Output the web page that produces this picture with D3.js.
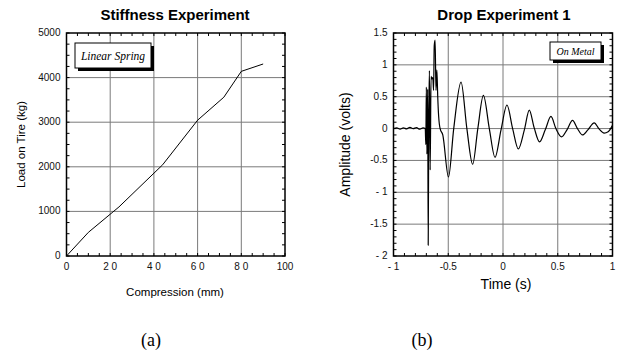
<!DOCTYPE html>
<html>
<head>
<meta charset="utf-8">
<script src="https://cdn.jsdelivr.net/npm/d3@7"></script>
<style>
  body { margin: 0; background: #fff; }
  svg { display: block; }
</style>
</head>
<body>
<div id="chart"></div>
<script>
// Stiffness experiment (a)
const compression = [0, 10, 24, 44, 60, 72, 80, 90];
const load = [0, 530, 1100, 2045, 3045, 3560, 4140, 4305];
const stiffXTicks = [0, 20, 40, 60, 80, 100];
const stiffXLabels = ['0', '2 0', '4 0', '6 0', '8 0', '100'];
const stiffYTicks = [0, 1000, 2000, 3000, 4000, 5000];
const stiffYLabels = ['0', '1000', '2000', '3000', '4000', '5000'];

// Drop experiment 1 (b)
const time = [
  -1, -0.97, -0.94, -0.91, -0.88, -0.85, -0.82, -0.79, -0.76, -0.73, -0.71,
  -0.705, -0.7, -0.695, -0.688, -0.683, -0.678, -0.672, -0.665, -0.657, -0.65, -0.641,
  -0.634, -0.628, -0.62, -0.612, -0.604, -0.596, -0.588, -0.582, -0.574,
  -0.55, -0.498, -0.45, -0.383, -0.33, -0.277, -0.23, -0.179, -0.125, -0.073,
  -0.018, 0.036, 0.088, 0.14, 0.195, 0.24, 0.285, 0.334, 0.386, 0.438, 0.483,
  0.535, 0.584, 0.635, 0.68, 0.726, 0.775, 0.833, 0.875, 0.924, 0.96, 1
];
const amplitude = [
  0.0, 0.01, -0.01, 0.01, -0.005, 0.02, 0.0, 0.015, -0.01, 0.01, 0.0,
  -0.25, 0.65, -0.4, 0.62, -1.83, 0.1, 0.91, -0.65, 0.82, 0.78, 0.8,
  0.6, 1.3, 1.39, 0.6, 0.92, 0.5, 0.2, 0.08, 0.0,
  -0.1, -0.76, 0.0, 0.73, 0.0, -0.56, 0.0, 0.52, 0.0, -0.45,
  -0.02, 0.37, 0.0, -0.32, -0.02, 0.29, 0.01, -0.21, -0.02, 0.19, 0.0,
  -0.13, -0.02, 0.13, 0.0, -0.1, -0.02, 0.09, 0.0, -0.07, -0.05, 0.05
];
const dropXTicks = [-1, -0.5, 0, 0.5, 1];
const dropXLabels = ['- 1', '-0.5', '0', '0.5', '1'];
const dropYTicks = [-2, -1.5, -1, -0.5, 0, 0.5, 1, 1.5];
const dropYLabels = ['- 2', '-1.5', '- 1', '-0.5', '0', '0.5', '1', '1.5'];

const W = 622, H = 351;
const svg = d3.select('#chart').append('svg')
  .attr('width', W).attr('height', H);

const sans = 'Liberation Sans, Arial, Helvetica, sans-serif';
const serif = 'Liberation Serif, Times New Roman, serif';

function drawPanel(p) {
  const x = d3.scaleLinear().domain(p.xDomain).range([p.left, p.right]);
  const y = d3.scaleLinear().domain(p.yDomain).range([p.bottom, p.top]);
  const g = svg.append('g');

  // grid
  g.append('g').selectAll('line.gx')
    .data(p.xTicks.slice(1, -1)).enter().append('line')
    .attr('x1', d => x(d)).attr('x2', d => x(d))
    .attr('y1', p.top).attr('y2', p.bottom)
    .attr('stroke', '#7a7a7a').attr('stroke-width', 1);
  g.append('g').selectAll('line.gy')
    .data(p.yTicks.slice(1, -1)).enter().append('line')
    .attr('y1', d => y(d)).attr('y2', d => y(d))
    .attr('x1', p.left).attr('x2', p.right)
    .attr('stroke', '#7a7a7a').attr('stroke-width', 1);

  // inward ticks on all four sides
  const xMinor = d3.range(p.xDomain[0], p.xDomain[1] + 1e-9, p.xMinor);
  const yMinor = d3.range(p.yDomain[0], p.yDomain[1] + 1e-9, p.yMinor);
  const tickLen = 3;
  [[p.bottom, -1], [p.top, 1]].forEach(([yy, dir]) => {
    g.append('g').selectAll('line').data(xMinor).enter().append('line')
      .attr('x1', d => x(d)).attr('x2', d => x(d))
      .attr('y1', yy).attr('y2', yy + dir * tickLen)
      .attr('stroke', '#000').attr('stroke-width', 1);
  });
  [[p.left, 1], [p.right, -1]].forEach(([xx, dir]) => {
    g.append('g').selectAll('line').data(yMinor).enter().append('line')
      .attr('y1', d => y(d)).attr('y2', d => y(d))
      .attr('x1', xx).attr('x2', xx + dir * tickLen)
      .attr('stroke', '#000').attr('stroke-width', 1);
  });

  // data line
  const line = d3.line()
    .x((d, i) => x(p.xs[i]))
    .y(d => y(d))
    .curve(p.curve);
  g.append('path')
    .datum(p.ys)
    .attr('fill', 'none')
    .attr('stroke', '#000')
    .attr('stroke-width', p.lineWidth)
    .attr('d', line);

  // frame
  g.append('rect')
    .attr('x', p.left).attr('y', p.top)
    .attr('width', p.right - p.left).attr('height', p.bottom - p.top)
    .attr('fill', 'none').attr('stroke', '#000').attr('stroke-width', 1.5);

  // tick labels
  g.append('g').selectAll('text').data(p.xTicks).enter().append('text')
    .attr('x', d => x(d)).attr('y', p.bottom + 14)
    .attr('text-anchor', 'middle')
    .attr('font-family', sans).attr('font-size', p.tickFont).attr('fill', '#111')
    .text((d, i) => p.xLabels[i]);
  g.append('g').selectAll('text').data(p.yTicks).enter().append('text')
    .attr('x', p.left - 6).attr('y', d => y(d) + 3)
    .attr('text-anchor', 'end')
    .attr('font-family', sans).attr('font-size', p.tickFont).attr('fill', '#111')
    .text((d, i) => p.yLabels[i]);

  // titles
  g.append('text')
    .attr('x', p.titleX).attr('y', 20)
    .attr('text-anchor', 'middle')
    .attr('font-family', sans).attr('font-weight', 'bold').attr('font-size', 15)
    .text(p.title);
  g.append('text')
    .attr('x', p.xTitleX).attr('y', p.xTitleY)
    .attr('text-anchor', 'middle')
    .attr('font-family', sans).attr('font-size', p.axisFont)
    .text(p.xTitle);
  g.append('text')
    .attr('transform', `translate(${p.yTitleX},${(p.top + p.bottom) / 2}) rotate(-90)`)
    .attr('text-anchor', 'middle')
    .attr('font-family', sans).attr('font-size', p.axisFont)
    .text(p.yTitle);

  // legend box with drop shadow
  const b = p.box;
  g.append('rect')
    .attr('x', b.x + 3).attr('y', b.y + 3).attr('width', b.w).attr('height', b.h)
    .attr('fill', '#000');
  g.append('rect')
    .attr('x', b.x).attr('y', b.y).attr('width', b.w).attr('height', b.h)
    .attr('fill', '#fff').attr('stroke', '#000').attr('stroke-width', 1);
  g.append('text')
    .attr('x', b.x + b.w / 2).attr('y', b.y + b.h / 2 + 4)
    .attr('text-anchor', 'middle')
    .attr('font-family', serif).attr('font-style', 'italic').attr('font-size', b.font)
    .text(b.label);

  // panel caption
  svg.append('text')
    .attr('x', p.captionX).attr('y', 346)
    .attr('text-anchor', 'middle')
    .attr('font-family', serif).attr('font-size', 18)
    .text(p.caption);
}

drawPanel({
  xs: compression, ys: load,
  xDomain: [0, 100], yDomain: [0, 5000],
  xTicks: stiffXTicks, xLabels: stiffXLabels,
  yTicks: stiffYTicks, yLabels: stiffYLabels,
  xMinor: 5, yMinor: 250,
  left: 66.5, right: 285, top: 33, bottom: 256,
  curve: d3.curveLinear, lineWidth: 1,
  tickFont: 10, axisFont: 11.5,
  title: 'Stiffness Experiment', titleX: 175,
  xTitle: 'Compression (mm)', xTitleX: 175, xTitleY: 296,
  yTitle: 'Load on Tire (kg)', yTitleX: 25,
  box: { x: 75, y: 43, w: 76, h: 25, font: 11.5, label: 'Linear Spring' },
  caption: '(a)', captionX: 151
});

drawPanel({
  xs: time, ys: amplitude,
  xDomain: [-1, 1], yDomain: [-2, 1.5],
  xTicks: dropXTicks, xLabels: dropXLabels,
  yTicks: dropYTicks, yLabels: dropYLabels,
  xMinor: 0.1, yMinor: 0.1,
  left: 393.5, right: 612.5, top: 33, bottom: 256,
  curve: d3.curveMonotoneX, lineWidth: 1.2,
  tickFont: 10, axisFont: 14,
  title: 'Drop Experiment 1', titleX: 504,
  xTitle: 'Time (s)', xTitleX: 506, xTitleY: 289,
  yTitle: 'Amplitude (volts)', yTitleX: 350,
  box: { x: 550, y: 42, w: 51, h: 18, font: 10, label: 'On Metal' },
  caption: '(b)', captionX: 422
});
</script>
</body>
</html>
